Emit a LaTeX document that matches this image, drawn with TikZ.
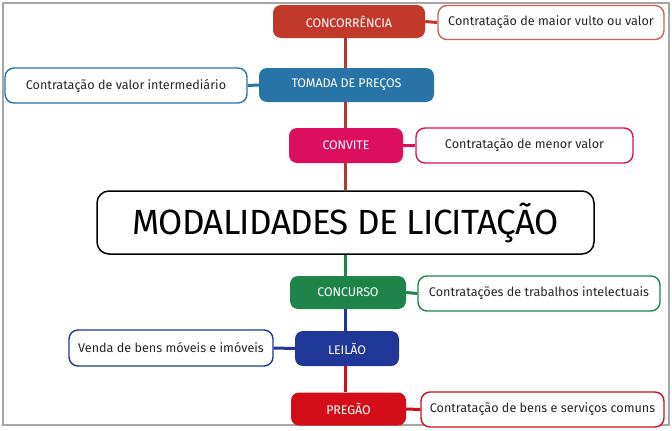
\documentclass[tikz,border=0pt]{standalone}
\usepackage{fontspec}
\setmainfont{Fira Sans}
\definecolor{cA}{HTML}{C0392B}
\definecolor{cB}{HTML}{2874A6}
\definecolor{cC}{HTML}{DC0F5F}
\definecolor{cD}{HTML}{1E8449}
\definecolor{cE}{HTML}{1F3796}
\definecolor{cF}{HTML}{D20F19}
\definecolor{trunk}{HTML}{B03A2E}
\tikzset{
  mode/.style={rounded corners=8pt, fill=#1, draw=none, text=white, font=\fontsize{12.5}{14}\selectfont\addfontfeatures{LetterSpace=-1}, inner sep=0pt, anchor=center},
  desc/.style={rounded corners=9pt, fill=white, draw=#1, line width=1.4pt, text=black!85, font=\fontsize{12.6}{14}\selectfont, inner sep=0pt, anchor=center},
  link/.style={line width=3pt, #1},
}
\begin{document}
\begin{tikzpicture}[x=1pt,y=-1pt]
\useasboundingbox (0,0) rectangle (672,431);
\fill[white] (0,0) rectangle (672,431);
\draw[gray!70, line width=1.5pt] (3,3) rectangle (669,425);
% nodes
\node[mode=cA, minimum width=152pt, minimum height=33pt] (conc) at (349,21.5) {CONCORRÊNCIA};
\node[mode=cB, minimum width=175pt, minimum height=34pt] (tom) at (346.5,85) {TOMADA DE PREÇOS};
\node[mode=cC, minimum width=114pt, minimum height=35pt] (conv) at (346,145.5) {CONVITE};
\node[rounded corners=12pt, draw=black, line width=1.5pt, fill=white, minimum width=497pt, minimum height=63pt, inner sep=0pt, font=\fontsize{35}{38}\selectfont\addfontfeatures{LetterSpace=-2}] (main) at (345.5,222.5) {MODALIDADES DE LICITAÇÃO};
\node[mode=cD, minimum width=116pt, minimum height=33pt] (concu) at (348,292.5) {CONCURSO};
\node[mode=cE, minimum width=104pt, minimum height=35pt] (leil) at (347,348.5) {LEILÃO};
\node[mode=cF, minimum width=115pt, minimum height=33pt] (preg) at (348.5,409) {PREGÃO};
\node[desc=cA!80, minimum width=226pt, minimum height=34pt] (dA) at (551,22.5) {Contratação de maior vulto ou valor};
\node[desc=cB, minimum width=242pt, minimum height=35pt] (dB) at (126,85.5) {Contratação de valor intermediário};
\node[desc=cC, minimum width=217pt, minimum height=35pt] (dC) at (524.5,145.5) {Contratação de menor valor};
\node[desc=cD, minimum width=242pt, minimum height=35pt] (dD) at (539,293.5) {Contratações de trabalhos intelectuais};
\node[desc=cE, minimum width=204pt, minimum height=36pt] (dE) at (171,348) {Venda de bens móveis e imóveis};
\node[desc=cF, minimum width=243pt, minimum height=35pt] (dF) at (542.5,409.5) {Contratação de bens e serviços comuns};
% connectors
\draw[link=trunk] (conc.south -| main.north) -- (tom.north -| main.north);
\draw[link=trunk] (tom.south -| main.north) -- (conv.north -| main.north);
\draw[link=trunk] (conv.south -| main.north) -- (main.north);
\draw[link=cD] (main.south) -- (concu.north -| main.south);
\draw[link=cE] (concu.south -| main.south) -- (leil.north -| main.south);
\draw[link=cF] (leil.south -| main.south) -- (preg.north -| main.south);
\draw[link=cA] (conc.east) -- (dA.west);
\draw[link=cB] (tom.west) -- (dB.east);
\draw[link=cC] (conv.east) -- (dC.west);
\draw[link=cD] (concu.east) -- (dD.west);
\draw[link=cE] (leil.west) -- (dE.east);
\draw[link=cF] (preg.east) -- (dF.west);
\end{tikzpicture}
\end{document}
